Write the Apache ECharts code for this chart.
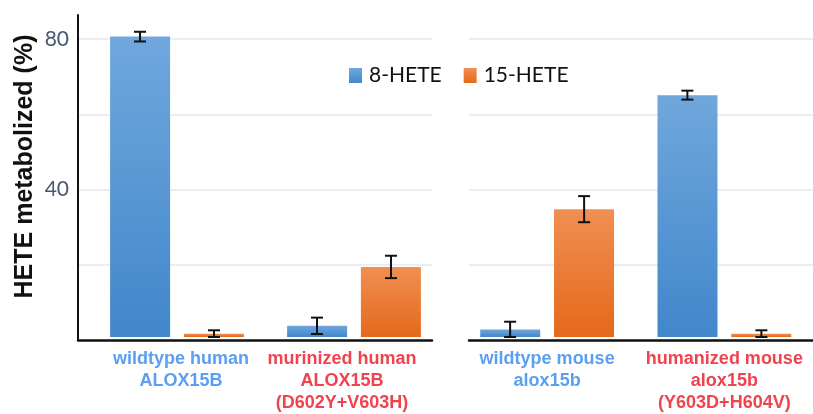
<!DOCTYPE html>
<html>
<head>
<meta charset="utf-8">
<script src="https://cdn.jsdelivr.net/npm/echarts@6/dist/echarts.min.js"></script>
<style>
  html, body { margin: 0; padding: 0; background: #fff; }
  #echart { width: 813px; height: 414px; }
</style>
</head>
<body>
<div id="echart"></div>
<script>
    // data
    const humanLabels = ['wildtype human\nALOX15B', 'murinized human\nALOX15B\n(D602Y+V603H)'];
    const mouseLabels = ['wildtype mouse\nalox15b', 'humanized mouse\nalox15b\n(Y603D+H604V)'];
    const hete8Human = [80.6, 3.0];
    const hete15Human = [0.9, 18.8];
    const hete8Mouse = [2.0, 64.9];
    const hete15Mouse = [34.3, 0.9];
    const err8Human = [1.3, 2.2];
    const err15Human = [0.9, 3.0];
    const err8Mouse = [2.1, 1.2];
    const err15Mouse = [3.5, 0.9];
    const yTicks = [40, 80];
    const yMax = 86.4;

    const chart = echarts.init(document.getElementById('echart'));

    const BLUE = new echarts.graphic.LinearGradient(0, 0, 0, 1, [
        { offset: 0, color: '#70a7dd' },
        { offset: 1, color: '#4187cb' }
    ]);
    const ORANGE = new echarts.graphic.LinearGradient(0, 0, 0, 1, [
        { offset: 0, color: '#f08f52' },
        { offset: 1, color: '#e4691b' }
    ]);
    const LABEL_COLORS = ['#5b9ff0', '#f0424f'];
    const BAR_W = 60;
    const OFFSET = 37; // half of bar width + gap

    // error bar: [category, low, high]
    function errData(vals, errs) {
        return vals.map((v, i) => [i, Math.max(0, v - errs[i]), v + errs[i]]);
    }

    function errSeries(data, gridIdx, dx) {
        return {
            type: 'custom',
            xAxisIndex: gridIdx,
            yAxisIndex: gridIdx,
            z: 10,
            data: data,
            renderItem: function (params, api) {
                const x = api.coord([api.value(0), 0])[0] + dx;
                const yLo = api.coord([api.value(0), api.value(1)])[1];
                const yHi = api.coord([api.value(0), api.value(2)])[1];
                const st = { stroke: '#111', lineWidth: 2 };
                return {
                    type: 'group',
                    children: [
                        { type: 'line', shape: { x1: x, y1: yLo, x2: x, y2: yHi }, style: st },
                        { type: 'line', shape: { x1: x - 6, y1: yLo, x2: x + 6, y2: yLo }, style: st },
                        { type: 'line', shape: { x1: x - 6, y1: yHi, x2: x + 6, y2: yHi }, style: st }
                    ]
                };
            }
        };
    }

    function catData(labels, pads) {
        return labels.map((l, i) => ({ value: l, textStyle: { padding: pads[i] } }));
    }

    const splitStyle = { show: true, showMaxLine: false, showMinLine: false, lineStyle: { color: '#e3e7ee', width: 1.5 } };

    const frameX = {
        type: 'category',
        data: ['a', 'b'],
        axisLine: { show: true, lineStyle: { color: '#111', width: 2.5 } },
        axisTick: { show: false },
        axisLabel: { show: false },
        splitLine: { show: false }
    };

    const barX = (labels, pads) => ({
        type: 'category',
        data: catData(labels, pads),
        axisLine: { show: false },
        axisTick: { show: false },
        splitLine: { show: false },
        axisLabel: {
            interval: 0,
            margin: 11,
            fontFamily: '"Liberation Sans", Arial, sans-serif',
            fontWeight: 'bold',
            fontSize: 18,
            lineHeight: 22,
            color: (v, i) => LABEL_COLORS[i]
        }
    });

    const hiddenY = {
        type: 'value', min: 0, max: yMax,
        axisLine: { show: false }, axisTick: { show: false },
        axisLabel: { show: false }, splitLine: { show: false }
    };

    const option = {
        animation: false,
        backgroundColor: '#fff',
        legend: {
            data: ['8-HETE', '15-HETE'],
            left: 344,
            top: 60,
            icon: 'rect',
            itemWidth: 13,
            itemHeight: 15,
            itemGap: 22,
            textStyle: { fontFamily: 'Lato', fontSize: 21, color: '#111', padding: [0, 0, 0, 2] }
        },
        grid: [
            { left: 78, top: 15, width: 354, height: 325 },
            { left: 469, top: 15, right: 0, height: 325 },
            { left: 88.5, top: 15, width: 354, height: 325 },
            { left: 458.5, top: 15, width: 361, height: 325 }
        ],
        xAxis: [
            Object.assign({ gridIndex: 0 }, frameX),
            Object.assign({ gridIndex: 1 }, frameX),
            Object.assign({ gridIndex: 2 }, barX(humanLabels, [[0, 0, 0, 8], [0, 24, 0, 0]])),
            Object.assign({ gridIndex: 3 }, barX(mouseLabels, [[0, 0, 0, 0], [0, 0, 0, 0]]))
        ],
        yAxis: [
            {
                gridIndex: 0, type: 'value', min: 0, max: yMax, interval: 20,
                name: 'HETE metabolized (%)',
                nameLocation: 'middle',
                nameGap: 40,
                nameTextStyle: {
                    fontFamily: '"Liberation Sans", Arial, sans-serif',
                    fontWeight: 'bold', fontSize: 25, color: '#111',
                    padding: [0, 0, 0, 22]
                },
                axisLine: { show: true, lineStyle: { color: '#111', width: 2 } },
                axisTick: { show: false },
                axisLabel: {
                    margin: 9,
                    fontFamily: 'Lato', fontSize: 21, color: '#4a5674',
                    formatter: v => (yTicks.includes(v) ? String(v) : '')
                },
                splitLine: splitStyle
            },
            {
                gridIndex: 1, type: 'value', min: 0, max: yMax, interval: 20,
                axisLine: { show: false }, axisTick: { show: false },
                axisLabel: { show: false },
                splitLine: splitStyle
            },
            Object.assign({ gridIndex: 2 }, hiddenY),
            Object.assign({ gridIndex: 3 }, hiddenY)
        ],
        series: [
            { name: '8-HETE', type: 'bar', xAxisIndex: 2, yAxisIndex: 2, barWidth: BAR_W, barGap: '23%', data: hete8Human, itemStyle: { color: BLUE } },
            { name: '15-HETE', type: 'bar', xAxisIndex: 2, yAxisIndex: 2, barWidth: BAR_W, barGap: '23%', data: hete15Human, itemStyle: { color: ORANGE } },
            { name: '8-HETE', type: 'bar', xAxisIndex: 3, yAxisIndex: 3, barWidth: BAR_W, barGap: '23%', data: hete8Mouse, itemStyle: { color: BLUE } },
            { name: '15-HETE', type: 'bar', xAxisIndex: 3, yAxisIndex: 3, barWidth: BAR_W, barGap: '23%', data: hete15Mouse, itemStyle: { color: ORANGE } },
            errSeries(errData(hete8Human, err8Human), 2, -OFFSET),
            errSeries(errData(hete15Human, err15Human), 2, OFFSET),
            errSeries(errData(hete8Mouse, err8Mouse), 3, -OFFSET),
            errSeries(errData(hete15Mouse, err15Mouse), 3, OFFSET)
        ]
    };

    chart.setOption(option);
</script>
</body>
</html>
